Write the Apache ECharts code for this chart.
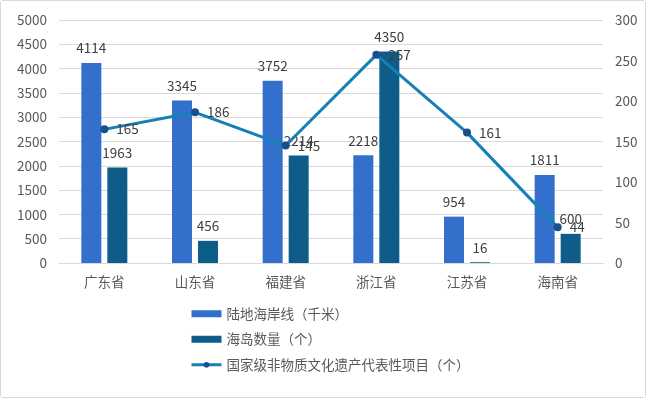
<!DOCTYPE html>
<html>
<head>
<meta charset="utf-8">
<script src="https://cdn.jsdelivr.net/npm/echarts@6/dist/echarts.min.js"></script>
<style>
	html, body { margin: 0; padding: 0; background: #fff; }
	.echarts {
		width: 644px;
		height: 396px;
		border: 1px solid #d9d9d9;
		border-radius: 3px;
	}
</style>
</head>
<body>
<div id="main" class="echarts"></div>
<script>
	let provinces = ['广东省', '山东省', '福建省', '浙江省', '江苏省', '海南省'];
	let coastline = [4114, 3345, 3752, 2218, 954, 1811];
	let islands = [1963, 456, 2214, 4350, 16, 600];
	let heritage = [165, 186, 145, 257, 161, 44];
	let seriesNames = ['陆地海岸线（千米）', '海岛数量（个）', '国家级非物质文化遗产代表性项目（个）'];

	var fontColor = '#595959';
	var labelColor = '#404040';
	var fontFamily = '"Noto Sans CJK SC", "Noto Sans", sans-serif';
	var plain = function (v) { return String(v); };

	let option = {
		backgroundColor: '#fff',
		textStyle: { fontFamily: fontFamily },
		grid: {
			left: 58,
			right: 42,
			top: 19,
			bottom: 134
		},
		legend: {
			orient: 'vertical',
			left: 184,
			top: 301,
			itemGap: 12,
			itemWidth: 30,
			itemHeight: 7,
			lineStyle: { width: 3 },
			textStyle: { color: fontColor, fontSize: 13.5, fontFamily: fontFamily },
			data: [
				{ name: seriesNames[0], icon: 'rect' },
				{ name: seriesNames[1], icon: 'rect' },
				{ name: seriesNames[2] }
			]
		},
		xAxis: [{
			type: 'category',
			data: provinces,
			axisLine: { show: true, lineStyle: { color: '#d9d9d9' } },
			axisTick: { show: false },
			axisLabel: { color: fontColor, fontSize: 13.5, margin: 12 }
		}],
		yAxis: [{
			type: 'value',
			min: 0,
			max: 5000,
			interval: 500,
			axisLine: { show: false },
			axisTick: { show: false },
			axisLabel: { color: fontColor, fontSize: 13.5, margin: 12, formatter: plain },
			splitLine: { lineStyle: { color: '#d9d9d9' } }
		}, {
			type: 'value',
			min: 0,
			max: 300,
			interval: 50,
			axisLine: { show: false },
			axisTick: { show: false },
			axisLabel: { color: fontColor, fontSize: 13.5, margin: 12, formatter: plain },
			splitLine: { show: false }
		}],
		series: [{
			name: seriesNames[0],
			type: 'bar',
			barWidth: 20,
			barGap: '30%',
			itemStyle: { color: '#3370cc' },
			label: { show: true, position: 'top', color: labelColor, fontSize: 13.5, distance: 8 },
			data: coastline
		}, {
			name: seriesNames[1],
			type: 'bar',
			barWidth: 20,
			barGap: '30%',
			itemStyle: { color: '#0e5c88' },
			label: { show: true, position: 'top', color: labelColor, fontSize: 13.5, distance: 8 },
			data: islands
		}, {
			name: seriesNames[2],
			type: 'line',
			yAxisIndex: 1,
			symbol: 'circle',
			symbolSize: 8,
			lineStyle: { color: '#157fb6', width: 3 },
			itemStyle: { color: '#1a4f8f' },
			label: { show: true, position: 'right', color: labelColor, fontSize: 13.5, distance: 8 },
			data: heritage
		}]
	};

	var myChart = echarts.init(document.getElementById('main'));
	myChart.setOption(option);
</script>
</body>
</html>
